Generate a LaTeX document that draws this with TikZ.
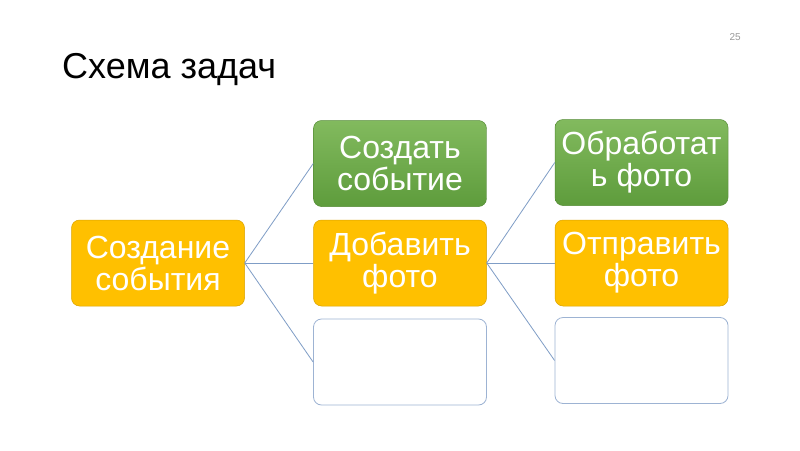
\documentclass[tikz,border=0pt]{standalone}
\usepackage{fontspec}
\setmainfont{Liberation Sans}
\begin{document}
\begin{tikzpicture}[x=1pt,y=-1pt,
  box/.style={rounded corners=8pt, minimum width=173pt, minimum height=86pt, inner sep=0pt,
    align=center, text=white, font=\fontsize{32}{32}\selectfont},
  orangebox/.style={box, fill=orangec, draw=orangec!85!black, line width=0.5pt},
  greenbox/.style={box, top color=greentop, bottom color=greenbot, draw=greenbot!90!black, line width=0.5pt},
  emptybox/.style={box, fill=white, draw=bluegray, line width=0.8pt},
  link/.style={draw=linkc, line width=0.8pt}]
\definecolor{orangec}{HTML}{FFC000}
\definecolor{greentop}{HTML}{82BA5E}
\definecolor{greenbot}{HTML}{5E9C3C}
\definecolor{bluegray}{HTML}{9DB3D3}
\definecolor{linkc}{HTML}{7F9DC6}
\useasboundingbox (0,0) rectangle (800,450);
\fill[white] (0,0) rectangle (800,450);

\node[anchor=base west, inner sep=0pt, font=\fontsize{36}{36}\selectfont] (title) at (62,78) {Схема задач};
\node[anchor=base east, inner sep=0pt, text=black!40, font=\fontsize{10}{10}\selectfont] (num) at (741,40) {25};

\node[orangebox] (root) at (158,263) {Создание\\события};
\node[greenbox] (a1) at (400,163.5) {Создать\\событие};
\node[orangebox] (a2) at (400,263) {Добавить\\фото};
\node[emptybox] (a3) at (400,362) {};
\node[greenbox] (b1) at (641.5,162.5) {Обработат\\ь фото};
\node[orangebox] (b2) at (641.5,263) {Отправить\\фото};
\node[emptybox] (b3) at (641.5,360.5) {};

\draw[link] (root.east) -- (a1.west);
\draw[link] (root.east) -- (a2.west);
\draw[link] (root.east) -- (a3.west);
\draw[link] (a2.east) -- (b1.west);
\draw[link] (a2.east) -- (b2.west);
\draw[link] (a2.east) -- (b3.west);
\end{tikzpicture}
\end{document}
